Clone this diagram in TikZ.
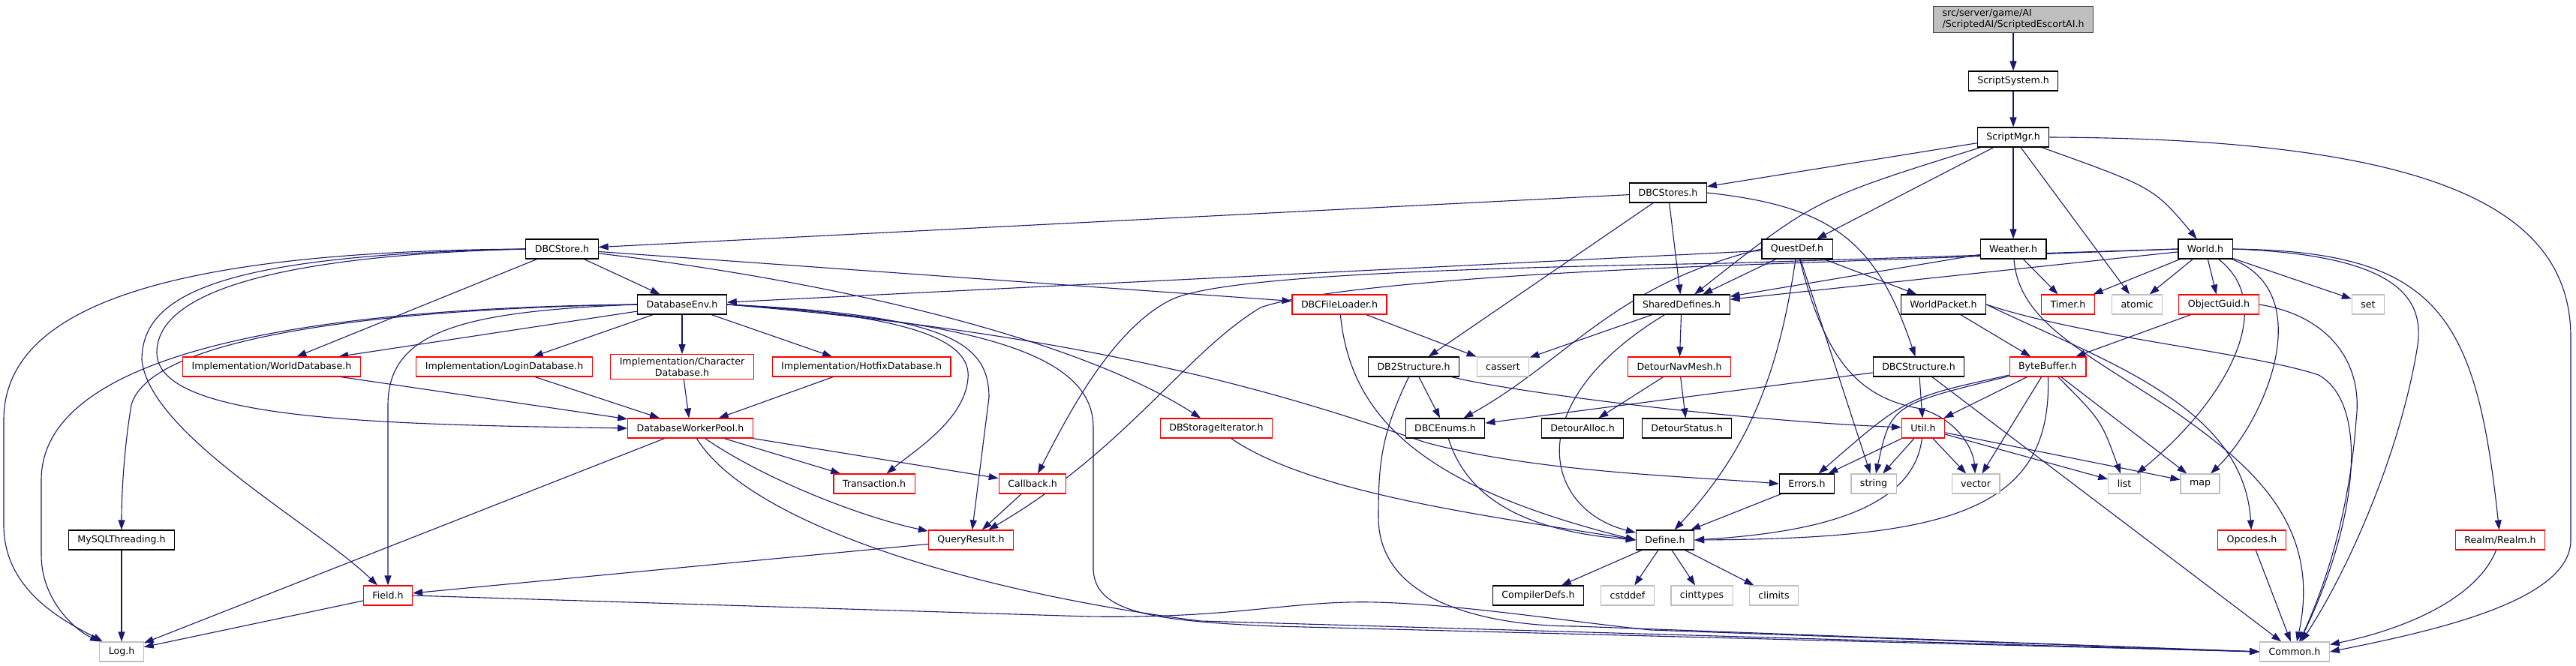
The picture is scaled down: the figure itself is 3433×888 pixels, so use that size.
\documentclass[tikz,border=0pt]{standalone}
\usepackage{fontspec}
\usepackage{tikz}
\usetikzlibrary{arrows.meta}
\newfontfamily\dvs{DejaVu Sans}
\newcommand{\nodefont}{\dvs\fontsize{12.6}{15}\selectfont}
\definecolor{inclblue}{HTML}{191970}
\definecolor{truncred}{HTML}{FF0000}
\definecolor{extgray}{HTML}{BFBFBF}
\pgfdeclarelayer{edgelayer}
\pgfsetlayers{edgelayer,main}
\begin{document}
\begin{tikzpicture}[x=1pt,y=-1pt]
  \tikzset{filebox/.style={draw=black,line width=1.1pt,fill=white,font=\nodefont,inner xsep=12pt,inner ysep=4pt,minimum height=26pt,align=center}}
  \tikzset{truncbox/.style={filebox,draw=truncred}}
  \tikzset{extbox/.style={filebox,draw=extgray}}
  \tikzset{rootbox/.style={filebox,fill=extgray,draw=black!75,align=left}}
  \tikzset{incl/.style={draw=inclblue,line width=1.1pt,-{Triangle[length=13pt,width=9pt]}}}
  \useasboundingbox (0,0) rectangle (3433,888);
  \node[rootbox] (root) at (2683,26) {src/server/game/AI\\/ScriptedAI/ScriptedEscortAI.h};
  \node[filebox] (scriptsys) at (2683,108) {ScriptSystem.h};
  \node[filebox] (scriptmgr) at (2683,183) {ScriptMgr.h};
  \node[filebox] (dbcstores) at (2223,257) {DBCStores.h};
  \node[filebox] (dbcstore) at (749,332) {DBCStore.h};
  \node[filebox] (questdef) at (2395,332) {QuestDef.h};
  \node[filebox] (weather) at (2683,332) {Weather.h};
  \node[filebox] (world) at (2939,332) {World.h};
  \node[filebox] (dbenv) at (909,406) {DatabaseEnv.h};
  \node[truncbox] (dbcloader) at (1785,406) {DBCFileLoader.h};
  \node[filebox] (shareddef) at (2241,406) {SharedDefines.h};
  \node[filebox] (wpacket) at (2590,406) {WorldPacket.h};
  \node[truncbox] (timer) at (2756,406) {Timer.h};
  \node[extbox] (atomic) at (2848,406) {atomic};
  \node[truncbox] (objguid) at (2957,406) {ObjectGuid.h};
  \node[extbox] (set) at (3156,406) {set};
  \node[truncbox] (worlddb) at (362,489) {Implementation/WorldDatabase.h};
  \node[truncbox] (logindb) at (672,489) {Implementation/LoginDatabase.h};
  \node[truncbox] (chardb) at (909,489) {Implementation/Character\\Database.h};
  \node[truncbox] (hotfixdb) at (1148,489) {Implementation/HotfixDatabase.h};
  \node[filebox] (db2struct) at (1884,489) {DB2Structure.h};
  \node[extbox] (cassert) at (2003,489) {cassert};
  \node[truncbox] (navmesh) at (2238,489) {DetourNavMesh.h};
  \node[filebox] (dbcstruct) at (2557,489) {DBCStructure.h};
  \node[truncbox] (bytebuf) at (2729,489) {ByteBuffer.h};
  \node[truncbox] (workerpool) at (920,571) {DatabaseWorkerPool.h};
  \node[truncbox] (dbstoreiter) at (1621,571) {DBStorageIterator.h};
  \node[filebox] (dbcenums) at (1926,571) {DBCEnums.h};
  \node[filebox] (detalloc) at (2109,571) {DetourAlloc.h};
  \node[filebox] (detstatus) at (2248,571) {DetourStatus.h};
  \node[truncbox] (util) at (2563,571) {Util.h};
  \node[truncbox] (transact) at (1165,645) {Transaction.h};
  \node[truncbox] (callback) at (1376,645) {Callback.h};
  \node[filebox] (errors) at (2408,645) {Errors.h};
  \node[extbox] (string) at (2497,645) {string};
  \node[extbox] (vector) at (2633,645) {vector};
  \node[extbox] (list) at (2831,645) {list};
  \node[extbox] (map) at (2932,645) {map};
  \node[filebox] (mysqlthr) at (162,720) {MySQLThreading.h};
  \node[truncbox] (queryres) at (1294,720) {QueryResult.h};
  \node[filebox] (define) at (2219,720) {Define.h};
  \node[truncbox] (opcodes) at (3001,720) {Opcodes.h};
  \node[truncbox] (realm) at (3332,720) {Realm/Realm.h};
  \node[truncbox] (field) at (517,794) {Field.h};
  \node[filebox] (compdefs) at (2050,794) {CompilerDefs.h};
  \node[extbox] (cstddef) at (2169,794) {cstddef};
  \node[extbox] (cinttypes) at (2268,794) {cinttypes};
  \node[extbox] (climits) at (2364,794) {climits};
  \node[extbox] (log) at (162,869) {Log.h};
  \node[extbox] (common) at (3058,869) {Common.h};
  \begin{pgfonlayer}{edgelayer}
  \draw[incl] (root) -- (scriptsys);
  \draw[incl] (scriptsys) -- (scriptmgr);
  \draw[incl] (scriptmgr) -- (dbcstores);
  \draw[incl] (scriptmgr) .. controls (2420,265) .. (shareddef);
  \draw[incl] (scriptmgr) -- (questdef);
  \draw[incl] (scriptmgr) -- (weather);
  \draw[incl] (scriptmgr) -- (atomic);
  \draw[incl] (scriptmgr) .. controls (2870,250) .. (world);
  \draw[incl] (scriptmgr.east) .. controls (3250,185) and (3426,280) .. (3426,450) -- (3426,720) .. controls (3426,800) and (3250,840) .. (common.east);
  \draw[incl] (dbcstores) -- (dbcstore);
  \draw[incl] (dbcstores) -- (db2struct);
  \draw[incl] (dbcstores) -- (shareddef);
  \draw[incl] (dbcstores.east) .. controls (2440,275) and (2500,320) .. (dbcstruct);
  \draw[incl] (dbcstore) -- (dbenv);
  \draw[incl] (dbcstore) -- (dbcloader);
  \draw[incl] (dbcstore) .. controls (1150,380) and (1450,460) .. (dbstoreiter);
  \draw[incl] (dbcstore) -- (worlddb);
  \draw[incl] (dbcstore.west) .. controls (250,335) and (5,400) .. (5,560) -- (5,700) .. controls (5,790) and (90,830) .. (log);
  \draw[incl] (dbcstore.west) .. controls (300,340) and (189,390) .. (189,480) .. controls (200,580) and (420,700) .. (field);
  \draw[incl] (dbcstore.west) .. controls (330,342) and (209,400) .. (209,470) .. controls (209,560) and (500,566) .. (workerpool.west);
  \draw[incl] (dbenv.west) .. controls (450,410) and (55,460) .. (55,640) -- (55,740) .. controls (55,800) and (100,840) .. (log);
  \draw[incl] (dbenv.west) .. controls (500,412) and (200,450) .. (175,540) .. controls (165,600) and (162,660) .. (mysqlthr);
  \draw[incl] (dbenv.west) .. controls (620,415) and (517,440) .. (517,540) -- (field);
  \draw[incl] (dbenv) -- (worlddb);
  \draw[incl] (dbenv) -- (logindb);
  \draw[incl] (dbenv) -- (chardb);
  \draw[incl] (dbenv) -- (hotfixdb);
  \draw[incl] (dbenv.east) .. controls (1220,420) and (1295,455) .. (1290,505) .. controls (1285,560) and (1220,600) .. (transact);
  \draw[incl] (dbenv.east) .. controls (1260,420) and (1318,455) .. (1318,530) -- (queryres);
  \draw[incl] (dbenv.east) .. controls (1330,430) and (1457,480) .. (1457,570) -- (1457,760) .. controls (1460,815) and (1530,828) .. (1700,835) -- (common.west);
  \draw[incl] (dbenv.east) .. controls (1500,450) and (1750,540) .. (1900,590) .. controls (2050,630) and (2250,635) .. (errors.west);
  \draw[incl] (dbcloader) .. controls (1800,560) and (1900,650) .. (define.west);
  \draw[incl] (dbcloader) -- (cassert);
  \draw[incl] (shareddef) -- (cassert);
  \draw[incl] (shareddef) -- (navmesh);
  \draw[incl] (shareddef) .. controls (2020,540) and (2060,680) .. (define);
  \draw[incl] (questdef) -- (dbenv);
  \draw[incl] (questdef) -- (shareddef);
  \draw[incl] (questdef.west) .. controls (2150,380) and (2090,480) .. (dbcenums);
  \draw[incl] (questdef) -- (wpacket);
  \draw[incl] (questdef) .. controls (2370,500) and (2330,600) .. (define);
  \draw[incl] (questdef) -- (string);
  \draw[incl] (questdef) .. controls (2430,470) and (2470,530) .. (2560,545) .. controls (2610,560) and (2630,600) .. (vector);
  \draw[incl] (weather) -- (shareddef);
  \draw[incl] (weather) -- (timer);
  \draw[incl] (weather) .. controls (2690,430) and (2780,470) .. (2900,550) .. controls (3000,620) and (3095,700) .. (common);
  \draw[incl] (wpacket) -- (bytebuf);
  \draw[incl] (wpacket.east) .. controls (2800,480) and (2990,540) .. (opcodes);
  \draw[incl] (wpacket.east) .. controls (2780,450) and (3000,470) .. (3090,500) .. controls (3160,540) and (3140,700) .. (common);
  \draw[incl] (world) -- (shareddef);
  \draw[incl] (world) -- (timer);
  \draw[incl] (world) -- (atomic);
  \draw[incl] (world) -- (objguid);
  \draw[incl] (world) -- (set);
  \draw[incl] (world) .. controls (3040,410) and (2960,540) .. (list);
  \draw[incl] (world) .. controls (3090,390) and (3020,560) .. (map);
  \draw[incl] (world.east) .. controls (3200,340) and (3230,400) .. (3222,460) .. controls (3200,600) and (3130,760) .. (common);
  \draw[incl] (world.east) .. controls (3250,335) and (3300,420) .. (realm);
  \draw[incl] (world.west) -- (2300,351) .. controls (1900,358) and (1620,370) .. (1560,400) .. controls (1480,440) and (1420,560) .. (callback);
  \draw[incl] (world.west) -- (2300,354) .. controls (2000,365) and (1750,385) .. (1680,410) .. controls (1580,470) and (1500,600) .. (queryres);
  \draw[incl] (objguid) -- (bytebuf);
  \draw[incl] (objguid.east) .. controls (3100,420) and (3150,480) .. (3140,560) .. controls (3130,700) and (3090,800) .. (common);
  \draw[incl] (dbcstruct) -- (dbcenums);
  \draw[incl] (dbcstruct) -- (util);
  \draw[incl] (dbcstruct) -- (common);
  \draw[incl] (db2struct) -- (dbcenums);
  \draw[incl] (db2struct) .. controls (2000,520) and (2300,560) .. (util);
  \draw[incl] (db2struct) .. controls (1840,580) and (1837,620) .. (1837,690) .. controls (1837,810) and (2000,835) .. (2100,835) -- (common.west);
  \draw[incl] (navmesh) -- (detalloc);
  \draw[incl] (navmesh) -- (detstatus);
  \draw[incl] (bytebuf) .. controls (2540,530) .. (errors);
  \draw[incl] (bytebuf) .. controls (2520,540) .. (string);
  \draw[incl] (bytebuf) -- (util);
  \draw[incl] (bytebuf) -- (vector);
  \draw[incl] (bytebuf) .. controls (2735,680) and (2600,718) .. (define.east);
  \draw[incl] (bytebuf) .. controls (2800,560) .. (list);
  \draw[incl] (bytebuf) -- (map);
  \draw[incl] (util) -- (errors);
  \draw[incl] (util) -- (string);
  \draw[incl] (util) -- (vector);
  \draw[incl] (util) -- (list);
  \draw[incl] (util) -- (map);
  \draw[incl] (util) .. controls (2550,680) and (2420,710) .. (define.east);
  \draw[incl] (errors) -- (define);
  \draw[incl] (define) -- (compdefs);
  \draw[incl] (define) -- (cstddef);
  \draw[incl] (define) -- (cinttypes);
  \draw[incl] (define) -- (climits);
  \draw[incl] (dbstoreiter) .. controls (1750,660) and (2000,690) .. (define.west);
  \draw[incl] (dbcenums) .. controls (1960,680) and (2060,710) .. (define.west);
  \draw[incl] (opcodes) -- (common);
  \draw[incl] (realm) .. controls (3300,800) and (3200,840) .. (common);
  \draw[incl] (worlddb) -- (workerpool);
  \draw[incl] (logindb) -- (workerpool);
  \draw[incl] (chardb) -- (workerpool);
  \draw[incl] (hotfixdb) -- (workerpool);
  \draw[incl] (workerpool) -- (log);
  \draw[incl] (workerpool) -- (transact);
  \draw[incl] (workerpool) -- (callback);
  \draw[incl] (workerpool) .. controls (1020,640) and (1150,690) .. (queryres);
  \draw[incl] (workerpool) .. controls (1000,700) and (1300,790) .. (1600,828) -- (common.west);
  \draw[incl] (callback) -- (queryres);
  \draw[incl] (queryres) -- (field);
  \draw[incl] (field) -- (log);
  \draw[incl] (field.east) -- (1450,822) .. controls (1650,825) and (1720,800) .. (1834,803) .. controls (1950,806) and (2100,830) .. (2200,840) -- (common.west);
  \draw[incl] (mysqlthr) -- (log);
  \end{pgfonlayer}
\end{tikzpicture}
\end{document}
